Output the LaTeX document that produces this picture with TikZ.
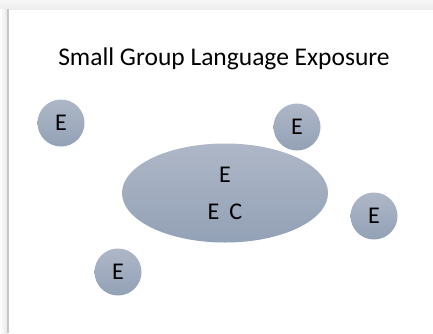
\documentclass[tikz,border=0pt]{standalone}
\usepackage{fontspec}
\setmainfont{Carlito}
\usetikzlibrary{shapes.geometric}
\definecolor{blobtop}{HTML}{AEB7C7}
\definecolor{blobbot}{HTML}{93A1B6}

\begin{document}
\begin{tikzpicture}[x=1pt,y=-1pt]
\tikzstyle{blob}=[
	top color=blobtop,
	bottom color=blobbot,
	draw=none,
	inner sep=0pt,
	font=\fontsize{24}{29}\selectfont ]
\tikzstyle{member}=[blob, circle, minimum size=47pt]
\tikzstyle{group}=[blob, ellipse, minimum width=206pt, minimum height=99pt, align=center]
\useasboundingbox (0,0) rectangle (433,333);
% slide edge and shadow
\fill[white] (0,0) rectangle (433,333);
\shade[top color=gray!6, bottom color=gray!14] (0,0) rectangle (433,9);
\shade[left color=white, right color=gray!18] (0,9) rectangle (7,333);
\fill[gray!45] (7,9) rectangle (9,333);
% title
\node[font=\fontsize{25.5}{30}\selectfont] (title) at (224,59) {Small Group Language Exposure};
% the group and the children around it
\node[group] (grp) at (225,193) {E\\[8pt]E\hspace{10pt}C};
\node[member] (e1) at (61,123) {E};
\node[member] (e2) at (297,127) {E};
\node[member] (e3) at (374,216) {E};
\node[member] (e4) at (118,272) {E};
\end{tikzpicture}
\end{document}
